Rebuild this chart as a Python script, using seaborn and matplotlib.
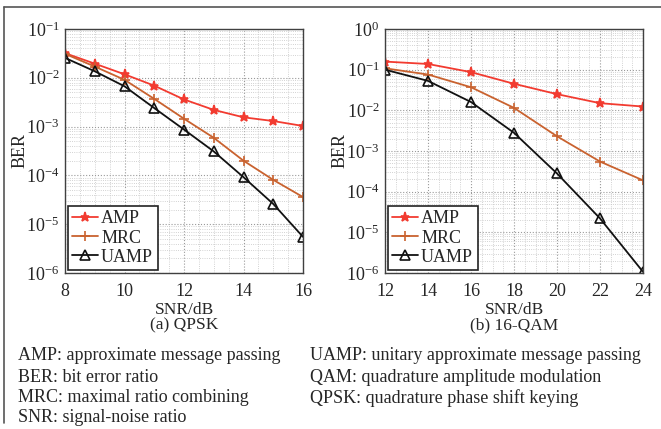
import numpy as np
import pandas as pd
import matplotlib
matplotlib.use("Agg")
import matplotlib.pyplot as plt
from matplotlib.ticker import LogLocator, MultipleLocator, NullFormatter
from matplotlib.lines import Line2D
import seaborn as sns

# ---------------- data ----------------
snr_qpsk = [8, 9, 10, 11, 12, 13, 14, 15, 16]
amp_qpsk = [0.032, 0.0195, 0.0118, 0.0069, 0.0036, 0.0022, 0.00155, 0.0013, 0.00103]
mrc_qpsk = [0.031, 0.017, 0.0091, 0.0037, 0.00145, 0.00059, 0.0002, 8.1e-5, 3.6e-5]
uamp_qpsk = [0.0256, 0.0136, 0.0067, 0.0024, 0.00087, 0.00031, 9.2e-5, 2.6e-5, 5.5e-6]

snr_16qam = [12, 14, 16, 18, 20, 22, 24]
amp_16qam = [0.158, 0.138, 0.087, 0.045, 0.025, 0.015, 0.0124]
mrc_16qam = [0.108, 0.076, 0.037, 0.0115, 0.0023, 0.00055, 0.00019]
uamp_16qam = [0.1, 0.053, 0.016, 0.0028, 0.00028, 2.2e-5, 1.07e-6]

series_names = ["AMP", "MRC", "UAMP"]
xticks_qpsk = [8, 10, 12, 14, 16]
xticks_16qam = [12, 14, 16, 18, 20, 22, 24]
captions = ["(a) QPSK", "(b) 16-QAM"]
xlabel = "SNR/dB"
ylabel = "BER"
notes_left = ["AMP: approximate message passing", "BER: bit error ratio",
              "MRC: maximal ratio combining", "SNR: signal-noise ratio"]
notes_right = ["UAMP: unitary approximate message passing",
               "QAM: quadrature amplitude modulation",
               "QPSK: quadrature phase shift keying"]

# ---------------- style ----------------
sns.set_theme(style="white")
plt.rcParams["font.family"] = ["Liberation Serif", "DejaVu Serif"]
plt.rcParams["mathtext.fontset"] = "stix"

colors = {"AMP": "#f23b30", "MRC": "#c9622f", "UAMP": "#111111"}
markers = {"AMP": "*", "MRC": "+", "UAMP": "^"}
msizes = {"AMP": 6.5, "MRC": 7, "UAMP": 7}

fig = plt.figure(figsize=(6.61, 4.29), dpi=100)

ax1 = fig.add_axes([65 / 661, 1 - 273 / 429, 238 / 661, 244 / 429])
ax2 = fig.add_axes([385 / 661, 1 - 273 / 429, 258 / 661, 244 / 429])


def build_df(x, a, m, u):
    rows = []
    for name, vals in zip(series_names, [a, m, u]):
        for xi, yi in zip(x, vals):
            rows.append({"SNR": xi, "BER": yi, "Method": name})
    return pd.DataFrame(rows)


df1 = build_df(snr_qpsk, amp_qpsk, mrc_qpsk, uamp_qpsk)
df2 = build_df(snr_16qam, amp_16qam, mrc_16qam, uamp_16qam)

for ax, df, xt, ylim, wpx in [
    (ax1, df1, xticks_qpsk, (1e-6, 1e-1), 238),
    (ax2, df2, xticks_16qam, (1e-6, 1e0), 258),
]:
    ax.set_yscale("log")
    for name in series_names:
        sub = df[df["Method"] == name]
        mfc = "none" if name == "UAMP" else colors[name]
        sns.lineplot(data=sub, x="SNR", y="BER", ax=ax, color=colors[name],
                     marker=markers[name], markersize=msizes[name],
                     markerfacecolor=mfc, markeredgecolor=colors[name],
                     markeredgewidth=1.2, linewidth=1.3, legend=False)
    ax.set_xlim(xt[0], xt[-1])
    ax.set_ylim(*ylim)
    ax.set_xticks(xt)
    ax.xaxis.set_minor_locator(MultipleLocator((xt[1] - xt[0]) / 4))
    ax.yaxis.set_major_locator(LogLocator(base=10, numticks=20))
    ax.yaxis.set_minor_locator(LogLocator(base=10, subs=np.arange(2, 10), numticks=20))
    ax.yaxis.set_minor_formatter(NullFormatter())
    ax.grid(True, which="major", linestyle=":", color="#9a9a9a", linewidth=0.8)
    ax.grid(True, which="minor", linestyle=":", color="#c4c4c4", linewidth=0.6)
    ax.tick_params(axis="x", which="major", labelsize=13, direction="in",
                   length=4, color="#333333", pad=7)
    ax.tick_params(axis="y", which="major", labelsize=13, direction="in",
                   length=4, color="#333333", pad=4)
    ax.tick_params(axis="both", which="minor", length=0)
    for sp in ax.spines.values():
        sp.set_color("#404040")
        sp.set_linewidth(1.0)
    ax.set_xlabel(xlabel, fontsize=12.5)
    ax.xaxis.set_label_coords(0.5, -(310 - 273) / 244, transform=ax.transAxes)
    ax.xaxis.label.set_va("center")
    ax.set_ylabel(ylabel, fontsize=13)
    ax.yaxis.set_label_coords(-45 / wpx, 0.5, transform=ax.transAxes)
    ax.yaxis.label.set_va("center")
    handles = [Line2D([0], [0], color=colors[n], marker=markers[n], markersize=msizes[n],
                      markerfacecolor=("none" if n == "UAMP" else colors[n]),
                      markeredgecolor=colors[n], markeredgewidth=1.2, linewidth=1.3)
               for n in series_names]
    leg = ax.legend(handles, series_names, loc="lower left", fontsize=13,
                    frameon=True, fancybox=False, borderpad=0.25, handlelength=1.45,
                    handletextpad=0.15, labelspacing=0.12, borderaxespad=0.15)
    leg.get_frame().set_edgecolor("#222222")
    leg.get_frame().set_linewidth(1.2)
    leg.get_frame().set_alpha(1.0)

# captions
fig.text((65 + 303) / 2 / 661, 1 - 325 / 429, captions[0], ha="center", va="center", fontsize=12.5)
fig.text((385 + 643) / 2 / 661, 1 - 325 / 429, captions[1], ha="center", va="center", fontsize=12.5)

# notes
ys = [356, 377, 398, 418]
for t, y in zip(notes_left, ys):
    fig.text(18 / 661, 1 - y / 429, t, ha="left", va="center", fontsize=13)
for t, y in zip(notes_right, ys):
    fig.text(310 / 661, 1 - y / 429, t, ha="left", va="center", fontsize=13)

# partial frame (top and left)
fig.add_artist(Line2D([4 / 661, 1.0], [1 - 7 / 429, 1 - 7 / 429], color="#555555", linewidth=1.2))
fig.add_artist(Line2D([4 / 661, 4 / 661], [1 - 7 / 429, 1 - 423 / 429], color="#555555", linewidth=1.2))

fig.savefig("out.png", dpi=100)
